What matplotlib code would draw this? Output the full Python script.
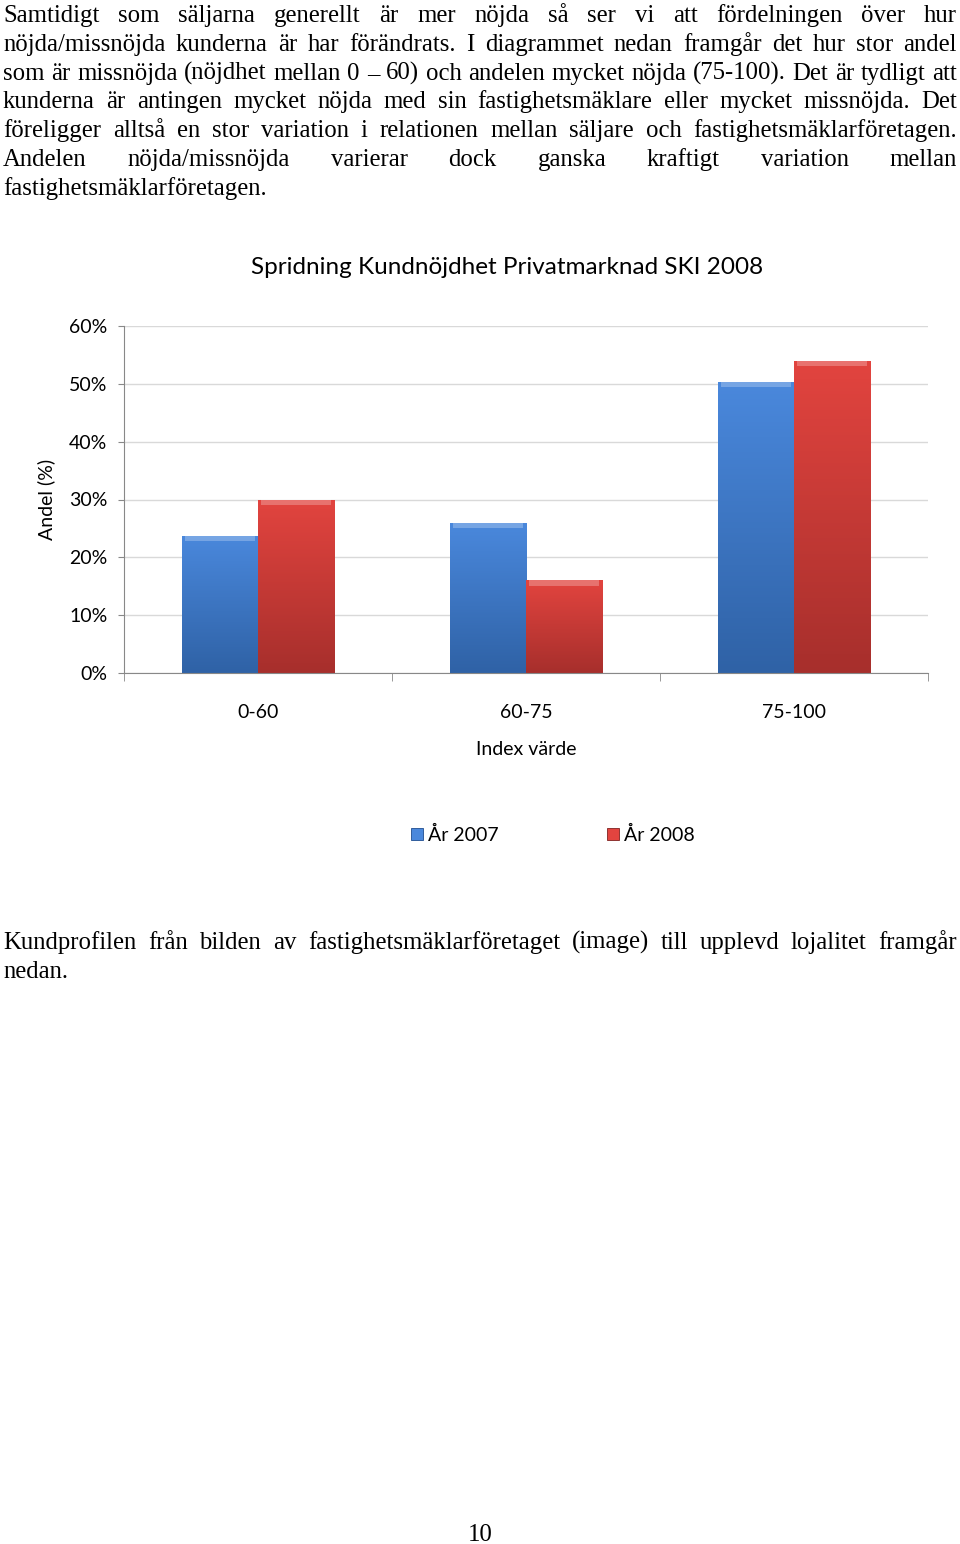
import matplotlib
matplotlib.use('Agg')
import matplotlib.pyplot as plt
import numpy as np
from matplotlib.patches import Rectangle

# Chart data
categories = ['0-60', '60-75', '75-100']
series_names = ['År 2007', 'År 2008']
values_2007 = [23.7, 25.9, 50.3]
values_2008 = [30.0, 16.0, 54.0]
y_ticks = [0, 10, 20, 30, 40, 50, 60]

para_top = [
    "Samtidigt som säljarna generellt är mer nöjda så ser vi att fördelningen över hur",
    "nöjda/missnöjda kunderna är har förändrats. I diagrammet nedan framgår det hur stor andel",
    "som är missnöjda (nöjdhet mellan 0 – 60) och andelen mycket nöjda (75-100). Det är tydligt att",
    "kunderna är antingen mycket nöjda med sin fastighetsmäklare eller mycket missnöjda. Det",
    "föreligger alltså en stor variation i relationen mellan säljare och fastighetsmäklarföretagen.",
    "Andelen nöjda/missnöjda varierar dock ganska kraftigt variation mellan",
    "fastighetsmäklarföretagen.",
]
para_bottom = [
    "Kundprofilen från bilden av fastighetsmäklarföretaget (image) till upplevd lojalitet framgår",
    "nedan.",
]

W, H = 960, 1544
fig = plt.figure(figsize=(W / 100, H / 100), dpi=100)
serif = ['Liberation Serif', 'DejaVu Serif']
sans = ['Lato', 'DejaVu Sans']


def fx(x):
    return x / W


def fy(y):
    return 1 - y / H


def justified(lines, y0, step, size, x_left=3, x_right=957):
    r = fig.canvas.get_renderer()
    for i, line in enumerate(lines):
        y = fy(y0 + i * step)
        words = line.split(' ')
        last = (i == len(lines) - 1)
        if last:
            fig.text(fx(x_left), y, line, family=serif, fontsize=size, va='baseline')
            continue
        objs = [fig.text(0, y, w, family=serif, fontsize=size, va='baseline') for w in words]
        widths = [o.get_window_extent(r).width for o in objs]
        gap = (x_right - x_left - sum(widths)) / max(len(words) - 1, 1)
        x = x_left
        for o, w in zip(objs, widths):
            o.set_x(fx(x))
            x += w + gap


justified(para_top, 22, 28.8, 17.8)
justified(para_bottom, 949, 28.8, 17.8)
fig.text(0.5, fy(1541), '10', family=serif, fontsize=17.8, ha='center', va='baseline')

# Chart
ax = fig.add_axes([fx(124), fy(673), fx(928) - fx(124), (673 - 326) / H])
x = np.arange(len(categories))
bw = 0.284
colors = [('#4a88dc', '#2f62a6', '#1f4d8f'), ('#e2443f', '#a72f2c', '#7f2220')]
for k, vals in enumerate([values_2007, values_2008]):
    off = (k - 0.5) * bw
    bars = ax.bar(x + off, vals, bw, color=colors[k][0], edgecolor=colors[k][2],
                  linewidth=0.6, zorder=2, label=series_names[k])
    for b in bars:
        bx, by, bwid, bh = b.get_x(), b.get_y(), b.get_width(), b.get_height()
        grad = np.linspace(0, 1, 100).reshape(-1, 1)
        cmap = matplotlib.colors.LinearSegmentedColormap.from_list(
            'g', [colors[k][1], colors[k][0]])
        im = ax.imshow(grad, extent=(bx, bx + bwid, by, by + bh), origin='lower',
                       cmap=cmap, aspect='auto', zorder=2.5)
        im.set_clip_path(b)
        # bevel highlight at top
        ax.add_patch(Rectangle((bx + bwid * 0.04, by + bh - 0.9), bwid * 0.92, 0.9,
                               color='white', alpha=0.25, lw=0, zorder=3))

ax.set_xlim(-0.5, 2.5)
ax.set_ylim(0, 60)
ax.set_aspect('auto')
ax.set_yticks(y_ticks)
ax.set_yticklabels([f'{v}%' for v in y_ticks], family=sans, fontsize=14)
ax.set_xticks(x)
ax.set_xticklabels(categories, family=sans, fontsize=14)
ax.set_xticks([-0.5, 0.5, 1.5, 2.5], minor=True)
ax.tick_params(axis='x', which='major', length=0, pad=22)
ax.tick_params(axis='x', which='minor', length=6, color='#888888')
ax.tick_params(axis='y', length=4, color='#888888', pad=8)
ax.grid(axis='y', color='#d9d9d9', linewidth=1, zorder=0)
for s in ['top', 'right']:
    ax.spines[s].set_visible(False)
for s in ['left', 'bottom']:
    ax.spines[s].set_color('#888888')

ax.set_xlabel('Index värde', family=sans, fontsize=14, labelpad=15)
ax.set_ylabel('Andel (%)', family=sans, fontsize=14, labelpad=10)
fig.text(fx(507), fy(268), 'Spridning Kundnöjdhet Privatmarknad SKI 2008',
         family=sans, fontsize=17.5, ha='center', va='center')

handles, labels = ax.get_legend_handles_labels()
fig.legend(handles, labels, loc='center', bbox_to_anchor=(fx(553), fy(835)), ncol=2,
           frameon=False, prop={'family': sans, 'size': 14}, handlelength=0.6,
           handleheight=0.6, handletextpad=0.25, columnspacing=5.6)

fig.savefig('out.png', dpi=100)
